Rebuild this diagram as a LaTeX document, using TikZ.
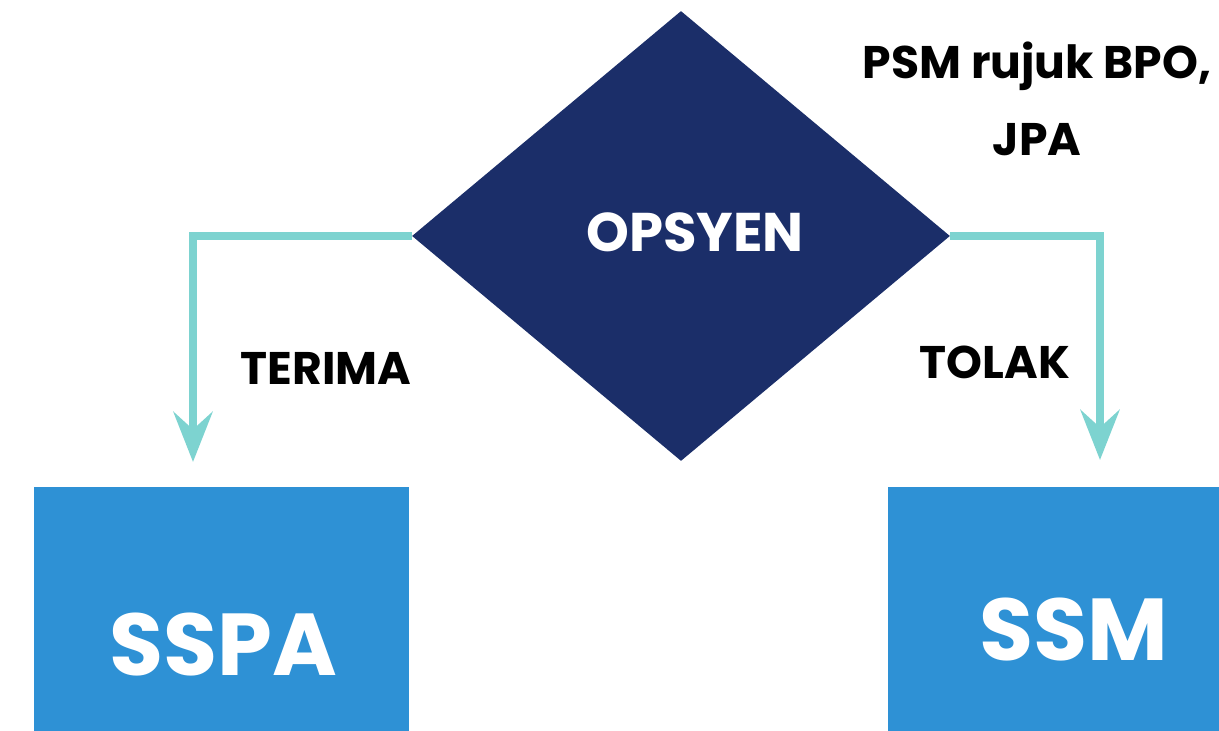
\documentclass[tikz,border=0pt]{standalone}
\usepackage{fontspec}
\setmainfont{Poppins}
\usepackage{xcolor}
\usetikzlibrary{arrows.meta,shapes.geometric}
\definecolor{mynavy}{HTML}{1B2E69}
\definecolor{myblue}{HTML}{2E91D5}
\definecolor{myteal}{HTML}{7DD3D0}

\begin{document}
\begin{tikzpicture}[font=\bfseries,
  choice/.style={diamond,fill=mynavy,text=white,minimum width=10.76cm,minimum height=9cm,inner sep=0pt},
  outbox/.style={rectangle,fill=myblue,inner sep=0pt},
  flow/.style={myteal,line width=4.5pt,-{Stealth[length=1cm,width=0.78cm,inset=0.35cm]}}]
\useasboundingbox (0,0) rectangle (24.38,14.62);
\node[choice] (opsyen) at (13.62,9.9) {};
\node[white,font=\fontsize{31}{36}\selectfont\bfseries] (opsyenlbl) at (13.9,9.98) {OPSYEN};
\node[outbox,minimum width=7.5cm,minimum height=4.88cm] (sspa) at (4.43,2.44) {};
\node[outbox,minimum width=6.62cm,minimum height=4.88cm] (ssm) at (21.07,2.44) {};
\node[white,font=\fontsize{50}{60}\selectfont\bfseries] (sspalbl) at (4.46,1.72) {SSPA};
\node[white,font=\fontsize{50}{60}\selectfont\bfseries] (ssmlbl) at (21.48,2.02) {SSM};
\node[font=\fontsize{26}{30}\selectfont\bfseries] (terima) at (6.52,7.26) {TERIMA};
\node[font=\fontsize{26}{30}\selectfont\bfseries] (tolak) at (19.9,7.38) {TOLAK};
\node[font=\fontsize{26}{44}\selectfont\bfseries,align=center] (rujuk) at (20.74,12.64) {PSM rujuk BPO,\\JPA};
% draw the arrows
\coordinate (tipL) at (3.86,5.38);
\coordinate (tipR) at (22.0,5.42);
\draw[flow] (opsyen.west) -| (tipL);
\draw[flow] (opsyen.east) -| (tipR);
\end{tikzpicture}
\end{document}
